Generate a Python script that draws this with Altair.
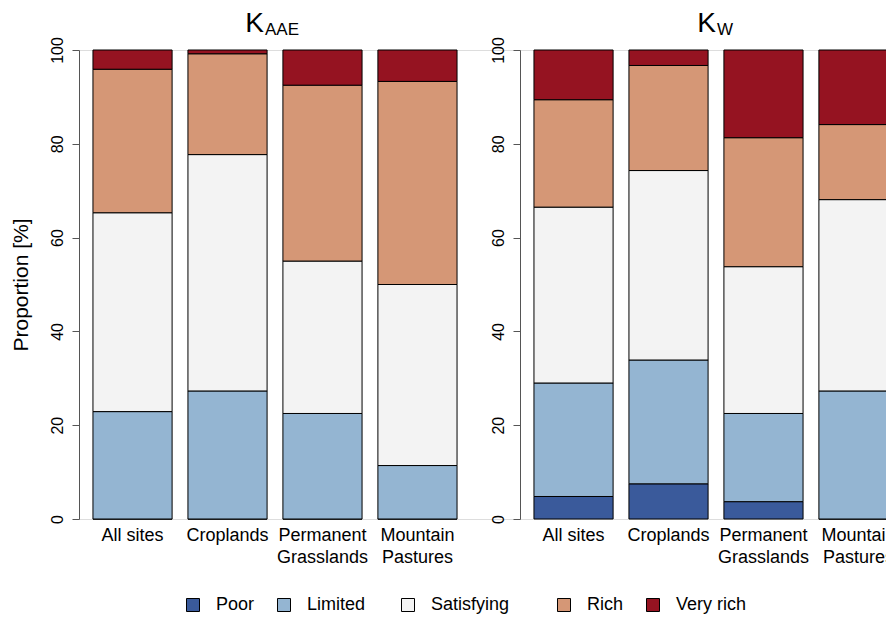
import altair as alt
import pandas as pd

sites = ["All sites", "Croplands", "Permanent Grasslands", "Mountain Pastures"]
levels = ["Poor", "Limited", "Satisfying", "Rich", "Very rich"]
colors = ["#3A5A9B", "#94B5D2", "#F3F3F3", "#D59776", "#951321"]

kaae_poor = [0.0, 0.0, 0.0, 0.0]
kaae_limited = [22.9, 27.3, 22.5, 11.4]
kaae_satisfying = [42.4, 50.4, 32.5, 38.6]
kaae_rich = [30.6, 21.5, 37.5, 43.3]
kaae_veryrich = [4.1, 0.8, 7.5, 6.7]

kw_poor = [4.8, 7.5, 3.7, 0.0]
kw_limited = [24.2, 26.4, 18.8, 27.3]
kw_satisfying = [37.5, 40.4, 31.3, 40.8]
kw_rich = [22.9, 22.4, 27.5, 16.0]
kw_veryrich = [10.6, 3.3, 18.7, 15.9]

y_ticks = [0, 20, 40, 60, 80, 100]
FONT = "Liberation Sans"

PANEL_W = 392      # width of one R plot region
PANEL_GAP = 441    # distance between the two y axes
PLOT_H = 469

NB = "\u00a0"
TH = "\u2009"
ZW = "\u200b"


def long_df(series):
    rows = []
    for li, vals in enumerate(series):
        for si, v in enumerate(vals):
            rows.append({"site": sites[si], "level": levels[li], "idx": li, "value": v})
    return pd.DataFrame(rows)


legend = alt.Legend(orient="none", legendX=105, legendY=546,
                    direction="horizontal", title=None,
                    symbolType="square", symbolSize=169,
                    symbolStrokeColor="black", symbolStrokeWidth=1,
                    labelFontSize=18, labelFont=FONT, labelColor="black",
                    labelOffset=14, columnPadding=20,
                    labelExpr=("datum.label == 'Limited' ? 'Limited" + NB * 2 + TH + ZW + "' : "
                               "datum.label == 'Satisfying' ? 'Satisfying" + NB * 5 + ZW + "' : "
                               "datum.label == 'Rich' ? '" + ZW + "Rich' : datum.label"))


def bars(series, x0, ytitle, yoffset):
    df = long_df(series)
    yaxis = alt.Axis(
        values=y_ticks, labelAngle=270, labelAlign="center", labelBaseline="bottom",
        labelFontSize=16, labelPadding=7, tickSize=7, tickColor="#555", domainColor="#555",
        grid=False, labelColor="black", titleFontSize=21, titleFontWeight="normal",
        titlePadding=18, labelFont=FONT, titleFont=FONT, titleColor="black",
        orient="left", offset=yoffset,
    )
    xaxis = alt.Axis(labelAngle=0, domain=False, ticks=False, labelFontSize=18,
                     labelFont=FONT, labelColor="black", labelPadding=7,
                     labelLineHeight=22, orient="bottom",
                     labelExpr="indexof(datum.label, ' ') > 0 && datum.label != 'All sites' ? split(datum.label, ' ') : datum.label")
    return alt.Chart(df).mark_bar(stroke="black", strokeWidth=1).encode(
        x=alt.X("site:N", sort=sites, title=None,
                scale=alt.Scale(range=[x0, x0 + PANEL_W], paddingInner=0.1667, paddingOuter=0.147),
                axis=xaxis),
        y=alt.Y("value:Q", stack="zero", title=ytitle,
                scale=alt.Scale(domain=[0, 100], nice=False), axis=yaxis),
        color=alt.Color("level:N", scale=alt.Scale(domain=levels, range=colors), legend=legend),
        order=alt.Order("idx:Q", sort="ascending"),
    )


def title(main, sub, kx):
    t1 = alt.Chart(pd.DataFrame({"t": [main]})).mark_text(
        align="right", baseline="alphabetic", fontSize=28, font=FONT, color="black"
    ).encode(x=alt.value(kx), y=alt.value(-18), text="t:N")
    t2 = alt.Chart(pd.DataFrame({"t": [sub]})).mark_text(
        align="left", baseline="alphabetic", fontSize=17, font=FONT, color="black"
    ).encode(x=alt.value(kx + 1), y=alt.value(-15), text="t:N")
    return t1 + t2


left = bars([kaae_poor, kaae_limited, kaae_satisfying, kaae_rich, kaae_veryrich],
            0, "Proportion [%]", 0)
right = bars([kw_poor, kw_limited, kw_satisfying, kw_rich, kw_veryrich],
             PANEL_GAP, None, -PANEL_GAP)

chart = alt.layer(
    left, right, title("K", "AAE", 185), title("K", "W", PANEL_GAP + 196)
).resolve_scale(x="independent", y="independent").resolve_axis(
    x="independent", y="independent"
).properties(
    width=807, height=PLOT_H,
    autosize=alt.AutoSizeParams(type="none"),
    padding={"left": 71, "top": 42, "right": 0, "bottom": 98},
).configure_view(stroke=None).configure(font=FONT)

chart.save("out.html", embed_options={"renderer": "svg", "actions": False})
